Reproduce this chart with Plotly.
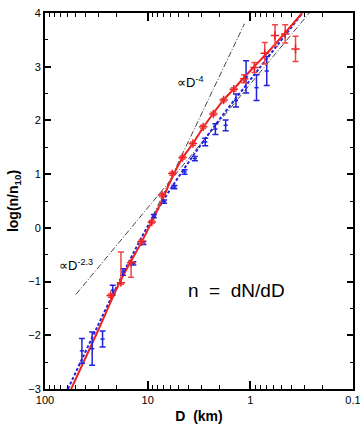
import plotly.graph_objects as go

# ---- data (D in km, y = log(n/n10)) ----
red_D = [22.9, 18.2, 14.5, 11.5, 9.12, 7.24, 5.75, 4.57, 3.63, 2.88, 2.29, 1.82,
         1.45, 1.15, 0.912, 0.724, 0.575, 0.457, 0.363]
red_y = [-1.26, -1.02, -0.65, -0.26, 0.11, 0.61, 1.01, 1.31, 1.57, 1.88, 2.12, 2.38,
         2.58, 2.775, 2.985, 3.25, 3.58, 3.61, 3.33]
red_up = [0.03, 0.57, 0.02, 0.03, 0.03, 0.03, 0.03, 0.03, 0.03, 0.03, 0.03, 0.03,
          0.03, 0.075, 0.095, 0.20, 0.20, 0.17, 0.235]
red_dn = [0.03, 0.03, 0.27, 0.03, 0.03, 0.03, 0.03, 0.03, 0.03, 0.03, 0.03, 0.03,
          0.03, 0.075, 0.095, 0.20, 0.20, 0.17, 0.235]

blue_D = [43.7, 34.7, 27.5, 21.9, 17.4, 13.8, 11.0, 8.71, 6.92, 5.50, 4.37, 3.47,
          2.75, 2.19, 1.74, 1.38, 1.10, 0.871, 0.692]
blue_y = [-2.29, -2.25, -2.07, -1.16, -0.82, -0.66, -0.28, 0.22, 0.49, 0.76, 1.04, 1.29,
          1.60, 1.84, 1.91, 2.37, 2.81, 2.61, 2.92]
blue_err = [0.23, 0.31, 0.15, 0.09, 0.06, 0.03, 0.03, 0.03, 0.03, 0.03, 0.04, 0.04,
            0.07, 0.10, 0.10, 0.12, 0.30, 0.24, 0.27]

# fitted curves
redfit_D = [55.6, 31.6, 18.0, 11.5, 9.08, 7.10, 5.89, 4.65, 3.63, 2.90, 2.32, 1.86,
            1.46, 1.16, 0.929, 0.631, 0.313]
redfit_y = [-3.0, -1.98, -0.95, -0.27, 0.12, 0.55, 0.90, 1.28, 1.57, 1.86, 2.12, 2.36,
            2.58, 2.79, 2.99, 3.33, 4.0]
bluefit_D = [59.8, 18.7, 8.87, 2.80, 0.818, 0.310]
bluefit_y = [-3.0, -0.98, 0.20, 1.64, 2.97, 4.0]

# reference power laws
p4_D = [8.91, 1.14]
p4_y = [0.22, 3.80]
p23_D = [50.0, 0.267]
p23_y = [-1.24, 4.0]

x_ticks = [100, 10, 1, 0.1]
x_ticktext = ["100", "10", "1", "0.1"]
y_ticks = [-3, -2, -1, 0, 1, 2, 3, 4]
minor_x = [m * 10 ** e for e in range(-1, 2) for m in range(2, 10)]

RED = "#ee2222"
REDBAR = "#f04545"
BLUE = "#2222dd"
GRAY = "#444444"

fig = go.Figure()

fig.add_trace(go.Scatter(x=p23_D, y=p23_y, mode="lines",
                         line=dict(color=GRAY, width=1, dash="6px,2px,1px,2px"),
                         showlegend=False, hoverinfo="skip"))
fig.add_trace(go.Scatter(x=p4_D, y=p4_y, mode="lines",
                         line=dict(color=GRAY, width=1, dash="6px,2px,1px,2px"),
                         showlegend=False, hoverinfo="skip"))
fig.add_trace(go.Scatter(x=bluefit_D, y=bluefit_y, mode="lines", line_shape="spline",
                         line=dict(color=BLUE, width=2, dash="3px,2px"),
                         showlegend=False))
fig.add_trace(go.Scatter(x=redfit_D, y=redfit_y, mode="lines", line_shape="spline",
                         line=dict(color=RED, width=2),
                         showlegend=False))
fig.add_trace(go.Scatter(x=blue_D, y=blue_y, mode="markers",
                         marker=dict(color=BLUE, size=3, symbol="line-ew",
                                     line=dict(color=BLUE, width=1.5)),
                         error_y=dict(type="data", array=blue_err, color=BLUE,
                                      thickness=1.5, width=3),
                         showlegend=False))
fig.add_trace(go.Scatter(x=red_D, y=red_y, mode="markers",
                         marker=dict(color=RED, size=6, symbol="cross-thin",
                                     line=dict(color=RED, width=1.5)),
                         error_y=dict(type="data", symmetric=False, array=red_up,
                                      arrayminus=red_dn, color=REDBAR,
                                      thickness=1.5, width=3),
                         showlegend=False))

fig.add_annotation(x=0.73, y=2.72, xref="x", yref="y", xanchor="left", yanchor="middle",
                   text="\u221dD<sup>-4</sup>", showarrow=False,
                   font=dict(size=13, color="black"))
fig.add_annotation(x=1.88, y=-0.70, xref="x", yref="y", xanchor="left", yanchor="middle",
                   text="\u221dD<sup>-2.3</sup>", showarrow=False,
                   font=dict(size=13, color="black"))
fig.add_annotation(x=0.131, y=-1.16, xref="x", yref="y", xanchor="center", yanchor="middle",
                   text="n  =  dN/dD", showarrow=False,
                   font=dict(size=19, color="black"))

fig.update_layout(
    width=360, height=440,
    margin=dict(l=45, r=7, t=13, b=51, autoexpand=False),
    paper_bgcolor="white", plot_bgcolor="white",
    font=dict(family="Liberation Sans, Arial, sans-serif", color="black", size=11),
    xaxis=dict(type="log", range=[2, -1], tickmode="array", tickvals=x_ticks,
               ticktext=x_ticktext, ticks="inside", ticklen=8, tickwidth=1.5,
               tickcolor="black", mirror="allticks", showline=True, linewidth=2,
               linecolor="black", showgrid=False, zeroline=False, automargin=False,
               ticklabeloverflow="allow",
               minor=dict(tickmode="array", tickvals=minor_x, ticks="inside",
                          ticklen=4, tickwidth=1.2, tickcolor="black", showgrid=False),
               tickfont=dict(size=11),
               title=dict(text="<b>D  (km)</b>", font=dict(size=14), standoff=6)),
    yaxis=dict(range=[-3, 4], tickmode="array", tickvals=y_ticks,
               ticks="inside", ticklen=6, tickwidth=1.5, tickcolor="black",
               mirror="allticks", showline=True, linewidth=2, linecolor="black",
               showgrid=False, zeroline=False, automargin=False,
               ticklabeloverflow="allow",
               minor=dict(dtick=0.5, ticks="inside", ticklen=3, tickwidth=1.2,
                          tickcolor="black", showgrid=False),
               tickfont=dict(size=11),
               title=dict(text="<b>log(n/n<sub>10</sub>)</b>", font=dict(size=14), standoff=6)),
)

fig.write_html("out.html", config={"displayModeBar": False},
               post_script="document.body.style.margin='0';document.body.style.padding='0';")
